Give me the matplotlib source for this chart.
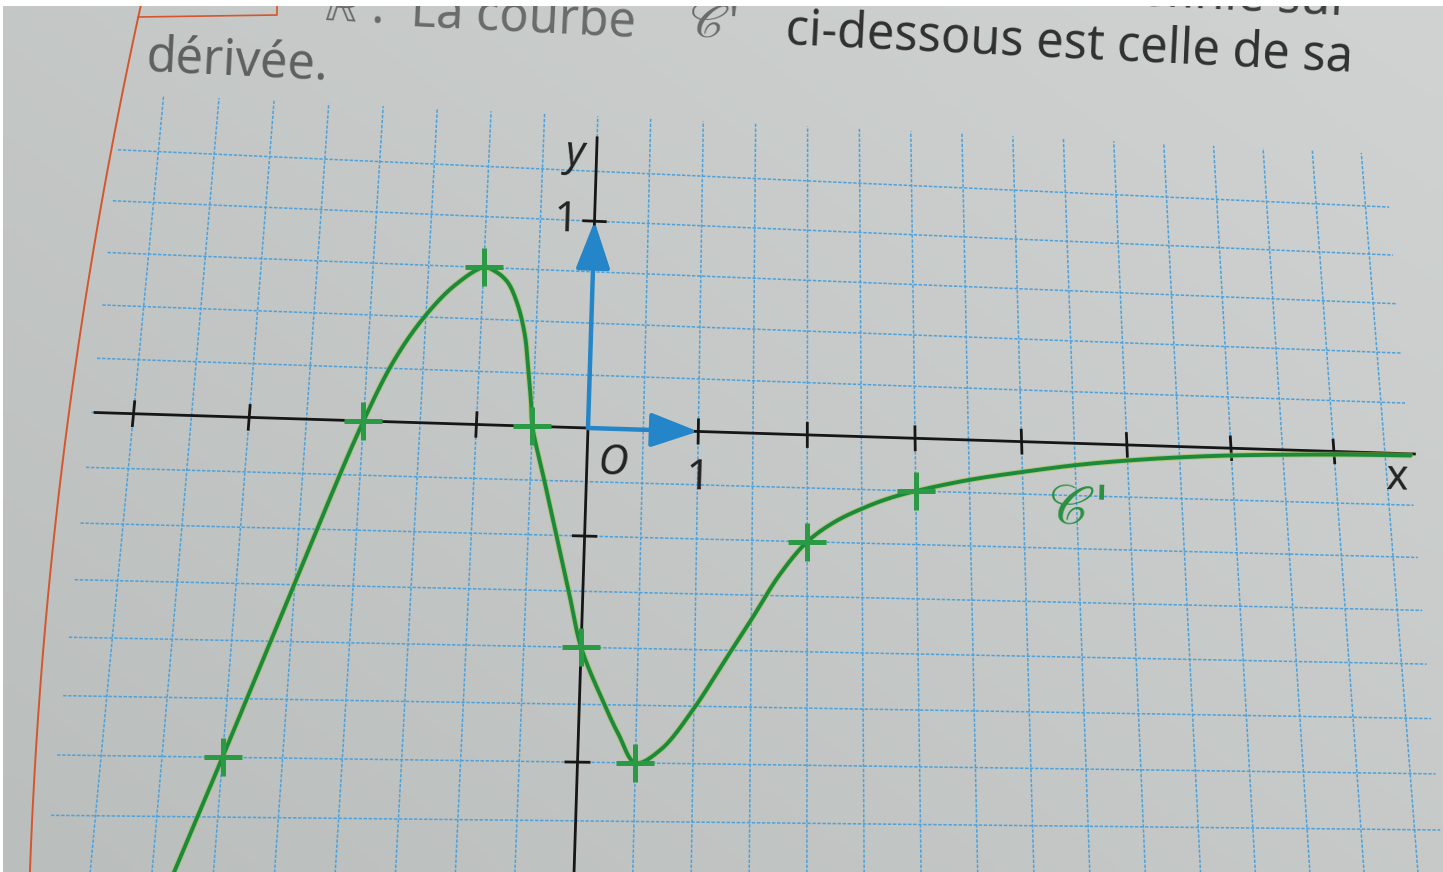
import numpy as np
import matplotlib
matplotlib.use("Agg")
import matplotlib.pyplot as plt
from matplotlib.transforms import Transform
from matplotlib.patches import FancyArrowPatch, Rectangle
from matplotlib.lines import Line2D

plt.rcParams["mathtext.fontset"] = "stix"

# ---- data: the derivative curve C' ----
curve_x = [-3.45, -3.0, -2.5, -2.0, -1.75, -1.5, -1.25, -1.0, -0.9, -0.78,
           -0.68, -0.6, -0.56, -0.52, -0.5, -0.375, -0.25, -0.125, 0.0, 0.2,
           0.35, 0.5, 0.72, 1.0, 1.25, 1.5, 1.75, 2.0, 2.25, 2.5,
           2.75, 3.0, 3.5, 4.0, 4.5, 5.0, 5.5, 6.0, 7.0, 7.75]
curve_y = [-2.17, -1.5, -0.74, 0.0, 0.30, 0.51, 0.66, 0.75, 0.735, 0.685,
           0.58, 0.43, 0.28, 0.11, 0.0, -0.25, -0.5, -0.75, -1.0, -1.23,
           -1.38, -1.5, -1.44, -1.26, -1.06, -0.86, -0.655, -0.5, -0.405, -0.34,
           -0.288, -0.25, -0.19, -0.145, -0.105, -0.075, -0.052, -0.035, -0.015, -0.008]

# marked points (crosses) on C'
mark_x = [-3.0, -2.0, -1.0, -0.5, 0.0, 0.5, 2.0, 3.0]
mark_y = [-1.5, 0.0, 0.75, 0.0, -1.0, -1.5, -0.5, -0.25]

xtick_vals = [-4, -3, -2, -1, 1, 2, 3, 4, 5, 6, 7]
ytick_vals = [-1.5, -1.0, -0.5, 1.0]

header_prev = "Soit f la fonction définie sur"
header_r = r"$\mathbb{R}$ ."
header_courbe = "La courbe"
header_c = r"$\mathscr{C}$'"
header_right = "ci-dessous est celle de sa"
header_next = "dérivée."
curve_name = r"$\mathscr{C}$'"

# ---- style ----
PAPER = "#c4c6c3"
GRID = "#4ba2dc"
INK = "#161616"
BLUE = "#2486c8"
GREEN = "#1c8a3d"
CROSS = "#2b9a45"
TEXT = "#303030"
FONT = ["Noto Sans", "DejaVu Sans"]

W, H = 1443, 872
OX, OY = 588, H - 428      # origin in pixels
UX, UY = 111, 213          # pixels per unit at the origin
TILT = -1.8                # page tilt in degrees
KX, KY = 5.3e-5, 1.385e-4  # perspective of the photographed page


class PageView(Transform):
    """Display-space view of a tilted page seen slightly in perspective."""
    input_dims = output_dims = 2
    is_separable = False
    has_inverse = True

    def __init__(self, ox, oy, kx, ky, tilt_deg, inverse=False):
        super().__init__()
        self.args = (ox, oy, kx, ky, tilt_deg)
        self.inverse = inverse
        self.ox, self.oy, self.kx, self.ky = ox, oy, kx, ky
        self.c = np.cos(np.radians(tilt_deg))
        self.s = np.sin(np.radians(tilt_deg))

    def transform_non_affine(self, values):
        v = np.asarray(values, float)
        single = v.ndim == 1
        v = np.atleast_2d(v)
        dx = v[:, 0] - self.ox
        dy = v[:, 1] - self.oy
        if not self.inverse:
            w = 1 + self.kx * dx + self.ky * dy
            X, Y = dx / w, dy / w
            out = np.column_stack([self.ox + self.c * X - self.s * Y,
                                   self.oy + self.s * X + self.c * Y])
        else:
            X = self.c * dx + self.s * dy
            Y = -self.s * dx + self.c * dy
            w = 1.0 / (1 - self.kx * X - self.ky * Y)
            out = np.column_stack([self.ox + X * w, self.oy + Y * w])
        return out[0] if single else out

    def inverted(self):
        return PageView(*self.args, inverse=not self.inverse)


fig = plt.figure(figsize=(W / 100, H / 100), dpi=100)
fig.patch.set_facecolor(PAPER)
ax = fig.add_axes([0, 0, 1, 1])
ax.axis("off")

# soft lighting across the page
gx, gy = np.meshgrid(np.linspace(0, 1, 64), np.linspace(0, 1, 64))
shade = 0.55 * gx + 0.45 * gy
c0 = np.array([186, 190, 188]) / 255
c1 = np.array([208, 211, 209]) / 255
img = c0[None, None, :] * (1 - shade[..., None]) + c1[None, None, :] * shade[..., None]
ax.imshow(img, extent=[0, 1, 0, 1], transform=ax.transAxes, origin="lower",
          aspect="auto", zorder=0, interpolation="bilinear")
ax.set_autoscale_on(False)
ax.set_xlim(-OX / UX, (W - OX) / UX)
ax.set_ylim(-OY / UY, (H - OY) / UY)

T = ax.transData + PageView(OX, OY, KX, KY, TILT)

# ---- squared paper ----
for xv in np.arange(-4.0, 7.51, 0.5):
    ax.plot([xv, xv], [-2.6, 1.53], transform=T, color=GRID, lw=1.1,
            ls=(0, (2.2, 1.1)), zorder=1)
for yv in np.arange(-2.25, 1.26, 0.25):
    ax.plot([-4.36, 7.74], [yv, yv], transform=T, color=GRID, lw=1.1,
            ls=(0, (2.2, 1.1)), zorder=1)

# ---- axes ----
ax.plot([-4.33, 7.79], [0, 0], transform=T, color=INK, lw=2.0, zorder=3)
ax.plot([0, 0], [-2.6, 1.42], transform=T, color=INK, lw=2.0, zorder=3)
for t in xtick_vals:
    ax.plot([t, t], [-0.055, 0.055], transform=T, color=INK, lw=2.0, zorder=3)
for t in ytick_vals:
    ax.plot([-0.1, 0.1], [t, t], transform=T, color=INK, lw=2.0, zorder=3)

# unit vectors
for end in [(1, 0), (0, 1)]:
    ax.add_patch(FancyArrowPatch((0, 0), end, transform=T,
                                 arrowstyle="-|>,head_length=1.05,head_width=0.38",
                                 mutation_scale=28, color=BLUE, lw=3.2,
                                 shrinkA=0, shrinkB=0, zorder=4))


# ---- smooth curve through the read points (centripetal Catmull-Rom) ----
def smooth_path(xv, yv, aspect, n=30):
    P = np.column_stack([np.asarray(xv, float), np.asarray(yv, float) * aspect])
    P = np.vstack([2 * P[0] - P[1], P, 2 * P[-1] - P[-2]])
    parts = []
    for i in range(1, len(P) - 2):
        p0, p1, p2, p3 = P[i - 1], P[i], P[i + 1], P[i + 2]
        t0 = 0.0
        t1 = t0 + np.linalg.norm(p1 - p0) ** 0.5
        t2 = t1 + np.linalg.norm(p2 - p1) ** 0.5
        t3 = t2 + np.linalg.norm(p3 - p2) ** 0.5
        t = np.linspace(t1, t2, n, endpoint=False)[:, None]
        a1 = (t1 - t) / (t1 - t0) * p0 + (t - t0) / (t1 - t0) * p1
        a2 = (t2 - t) / (t2 - t1) * p1 + (t - t1) / (t2 - t1) * p2
        a3 = (t3 - t) / (t3 - t2) * p2 + (t - t2) / (t3 - t2) * p3
        b1 = (t2 - t) / (t2 - t0) * a1 + (t - t0) / (t2 - t0) * a2
        b2 = (t3 - t) / (t3 - t1) * a2 + (t - t1) / (t3 - t1) * a3
        parts.append((t2 - t) / (t2 - t1) * b1 + (t - t1) / (t2 - t1) * b2)
    parts.append(P[-2][None, :])
    S = np.vstack(parts)
    return S[:, 0], S[:, 1] / aspect


sx, sy = smooth_path(curve_x, curve_y, UY / UX)
ax.plot(sx, sy, transform=T, color="#a6c13a", lw=4.2, alpha=0.55, zorder=5,
        solid_capstyle="round")
ax.plot(sx, sy, transform=T, color=GREEN, lw=2.8, zorder=5, solid_capstyle="round")
ax.plot(mark_x, mark_y, ls="none", marker="+", ms=27, mew=3.6, color=CROSS,
        transform=T, zorder=6)

# ---- labels ----
lab = dict(transform=T, family=FONT, color="#222222", rotation=TILT,
           ha="center", va="center", zorder=7)
ax.text(-0.2, 1.33, "y", fontsize=30, style="italic", **lab)
ax.text(-0.27, 1.0, "1", fontsize=30, **lab)
ax.text(0.24, -0.16, "O", fontsize=30, style="italic", **lab)
ax.text(1.0, -0.22, "1", fontsize=30, **lab)
ax.text(7.6, -0.12, "x", fontsize=30, **lab)
ax.text(4.5, -0.31, curve_name, transform=T, fontsize=40, color="#2a9040",
        ha="center", va="center", rotation=TILT, zorder=7)


# ---- text of the page above the figure ----
def px(x, y):
    return x / W, 1 - y / H


hdr = dict(family=FONT, fontsize=35, rotation=-2.8, rotation_mode="anchor",
           va="baseline")
fig.text(*px(1350, 15), header_prev, ha="right", color="#3e3e3e", **hdr)
fig.text(*px(382, 22), header_r, ha="right", color="#6a6a6a", **hdr)
fig.text(*px(410, 26), header_courbe, ha="left", color="#6a6a6a", **hdr)
fig.text(*px(688, 36), header_c, ha="left", color="#6a6a6a", **hdr)
fig.text(*px(785, 44), header_right, ha="left", color=TEXT, **hdr)
fig.text(*px(145, 71), header_next, ha="left", color="#5f5f5f", **hdr)

# margin rule and exercise box
my = np.linspace(0, H, 80)
mx = 142 - 0.2206 * my + 0.0001056 * my ** 2
fig.add_artist(Line2D(mx / W, 1 - my / H, transform=fig.transFigure,
                      color="#d5562c", lw=1.4))
fig.add_artist(Line2D(np.array([138, 277, 277]) / W, 1 - np.array([17, 15, 0]) / H,
                      transform=fig.transFigure, color="#d5562c", lw=1.2))

# white border of the photo
fig.add_artist(Rectangle((0, 1 - 6 / H), 1, 6 / H, transform=fig.transFigure,
                         facecolor="white", edgecolor="none", zorder=20))
fig.add_artist(Rectangle((0, 0), 3 / W, 1, transform=fig.transFigure,
                         facecolor="white", edgecolor="none", zorder=20))

fig.savefig("out.png", dpi=100, facecolor=fig.get_facecolor())
